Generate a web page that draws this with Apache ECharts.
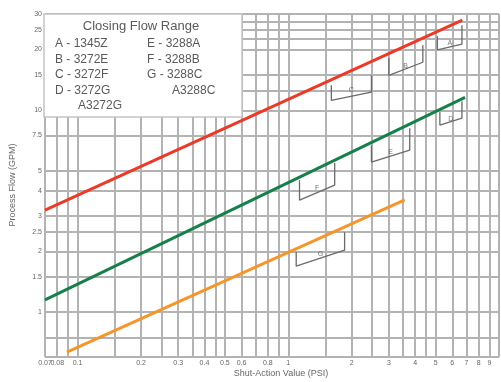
<!DOCTYPE html>
<html><head><meta charset="utf-8">
<script src="https://cdn.jsdelivr.net/npm/echarts@6/dist/echarts.min.js"></script>
<style>html,body{margin:0;padding:0;background:#fff}#c{width:501px;height:382px}</style>
</head><body><div id="c"></div>
<script>
// ---- data ----
const xGridValues = [0.07,0.08,0.09,0.1,0.15,0.2,0.25,0.3,0.35,0.4,0.45,0.5,0.6,0.7,0.8,0.9,1,1.5,2,2.5,3,3.5,4,4.5,5,6,7,8,9,10];
const xTickValues = [0.07,0.08,0.1,0.2,0.3,0.4,0.5,0.6,0.8,1,2,3,4,5,6,7,8,9];
const xTickTexts  = ['0.07','0.08','0.1','0.2','0.3','0.4','0.5','0.6','0.8','1','2','3','4','5','6','7','8','9'];
const yGridValues = [0.6,0.75,1,1.5,2,2.5,3,4,5,7.5,10,12.5,15,20,22.5,25,27.5,30];
const yTickValues = [30,25,20,15,10,7.5,5,4,3,2.5,2,1.5,1];
const yTickTexts  = ['30','25','20','15','10','7.5','5','4','3','2.5','2','1.5','1'];
const lineRed    = [[0.07,3.2],[6.7,28.0]];
const lineGreen  = [[0.07,1.15],[6.9,11.6]];
const lineOrange = [[0.089,0.635],[3.57,3.6]];
const bracketR1 = [[1.6,13.3],[1.6,11.2],[2.48,12.3],[2.48,14.9]];
const bracketR2 = [[3.0,18.1],[3.0,14.9],[4.35,17.3],[4.35,21.0]];
const bracketR3 = [[5.1,23.3],[5.1,19.9],[6.67,21.3],[6.67,26.4]];
const bracketG1 = [[1.13,4.51],[1.13,3.59],[1.66,4.26],[1.66,5.48]];
const bracketG2 = [[2.48,6.71],[2.48,5.54],[3.77,6.35],[3.77,8.16]];
const bracketG3 = [[5.24,9.8],[5.24,8.45],[6.67,9.15],[6.67,11.1]];
const bracketO1 = [[1.09,1.99],[1.09,1.69],[1.85,2.03],[1.85,2.49]];
const bracketLetters = [[1.99,12.6,'C'],[3.6,16.6,'B'],[5.85,21.6,'A'],[1.37,4.1,'F'],[3.06,6.2,'E'],[5.9,9.0,'D'],[1.42,1.95,'G']];
const legendTitle = 'Closing Flow Range';
const legendCol1 = ['A - 1345Z','B - 3272E','C - 3272F','D - 3272G'];
const legendCol1Extra = 'A3272G';
const legendCol2 = ['E - 3288A','F - 3288B','G - 3288C'];
const legendCol2Extra = 'A3288C';
const xTitle = 'Shut-Action Value (PSI)';
const yTitle = 'Process Flow (GPM)';

// ---- chart ----
const FONT = 'Liberation Sans, Arial, sans-serif';
const GRID = '#b3b3b3';
const chart = echarts.init(document.getElementById('c'), null, {renderer:'canvas'});
const xLabelMap = {}; xTickValues.forEach((v,i)=>xLabelMap[v]=xTickTexts[i]);
const yLabelMap = {}; yTickValues.forEach((v,i)=>yLabelMap[v]=yTickTexts[i]);
const gridLines = [];
xGridValues.forEach(v=>gridLines.push({xAxis:v,
  label:{show: xLabelMap[v]!==undefined, formatter: xLabelMap[v]||'', position:'start', distance:3, fontSize:7, color:'#666', fontFamily:FONT}}));
yGridValues.forEach(v=>gridLines.push({yAxis:v,
  label:{show: yLabelMap[v]!==undefined, formatter: yLabelMap[v]||'', position:'start', distance:3, fontSize:7, color:'#666', fontFamily:FONT}}));

const brackets = [bracketR1,bracketR2,bracketR3,bracketG1,bracketG2,bracketG3,bracketO1];
const series = [
  {type:'line', data:[[0.07,0.6]], showSymbol:false, symbol:'none', silent:true, lineStyle:{opacity:0}, z:1,
   markLine:{silent:true, symbol:['none','none'], animation:false, z:1,
     lineStyle:{color:GRID, width:2, type:'solid'}, emphasis:{disabled:true}, data:gridLines}},
  {type:'line', data:lineRed, symbol:'none', lineStyle:{color:'#ea3a28', width:3}, z:10, animation:false},
  {type:'line', data:lineGreen, symbol:'none', lineStyle:{color:'#17804a', width:3}, z:10, animation:false},
  {type:'line', data:lineOrange, symbol:'none', lineStyle:{color:'#f5962a', width:3}, z:10, animation:false}
];
brackets.forEach(b=>series.push({type:'line', data:b, symbol:'none', lineStyle:{color:'#6a6a6a', width:1.3}, z:9, animation:false}));
series.push({type:'scatter', data:bracketLetters.map(d=>({value:[d[0],d[1]], label:{formatter:d[2]}})),
  symbolSize:0, z:9, animation:false,
  label:{show:true, position:'inside', fontSize:7, color:'#555', fontFamily:FONT}});

const graphics = [
  {type:'rect', shape:{x:44,y:14,width:198,height:103}, style:{fill:'#fff', stroke:'#c4c4c4', lineWidth:1.5}, z:100},
  {type:'text', x:141, y:26, style:{text:legendTitle, fill:'#5a5a5a', font:'13px '+FONT, textAlign:'center', textVerticalAlign:'middle'}, z:101}
];
const rowsY = [44,59.5,75,90.5,106];
legendCol1.forEach((t,i)=>graphics.push({type:'text', x:55, y:rowsY[i], style:{text:t, fill:'#5a5a5a', font:'12px '+FONT, textVerticalAlign:'middle'}, z:101}));
graphics.push({type:'text', x:78, y:rowsY[4], style:{text:legendCol1Extra, fill:'#5a5a5a', font:'12px '+FONT, textVerticalAlign:'middle'}, z:101});
legendCol2.forEach((t,i)=>graphics.push({type:'text', x:147, y:rowsY[i], style:{text:t, fill:'#5a5a5a', font:'12px '+FONT, textVerticalAlign:'middle'}, z:101}));
graphics.push({type:'text', x:172, y:rowsY[3], style:{text:legendCol2Extra, fill:'#5a5a5a', font:'12px '+FONT, textVerticalAlign:'middle'}, z:101});
graphics.push({type:'text', x:281, y:374, style:{text:xTitle, fill:'#666', font:'9px '+FONT, textAlign:'center', textVerticalAlign:'middle'}, z:101});
graphics.push({type:'text', x:13, y:185, rotation:Math.PI/2, style:{text:yTitle, fill:'#666', font:'9px '+FONT, textAlign:'center', textVerticalAlign:'middle'}, z:101});

chart.setOption({
  animation:false,
  backgroundColor:'#fff',
  grid:{left:45, right:2, top:14, bottom:25},
  xAxis:{type:'log', logBase:10, min:0.07, max:10, axisLine:{show:false}, axisTick:{show:false}, axisLabel:{show:false}, splitLine:{show:false}},
  yAxis:{type:'log', logBase:10, min:0.6, max:30, axisLine:{show:false}, axisTick:{show:false}, axisLabel:{show:false}, splitLine:{show:false}},
  series: series,
  graphic: graphics
});
</script></body></html>
